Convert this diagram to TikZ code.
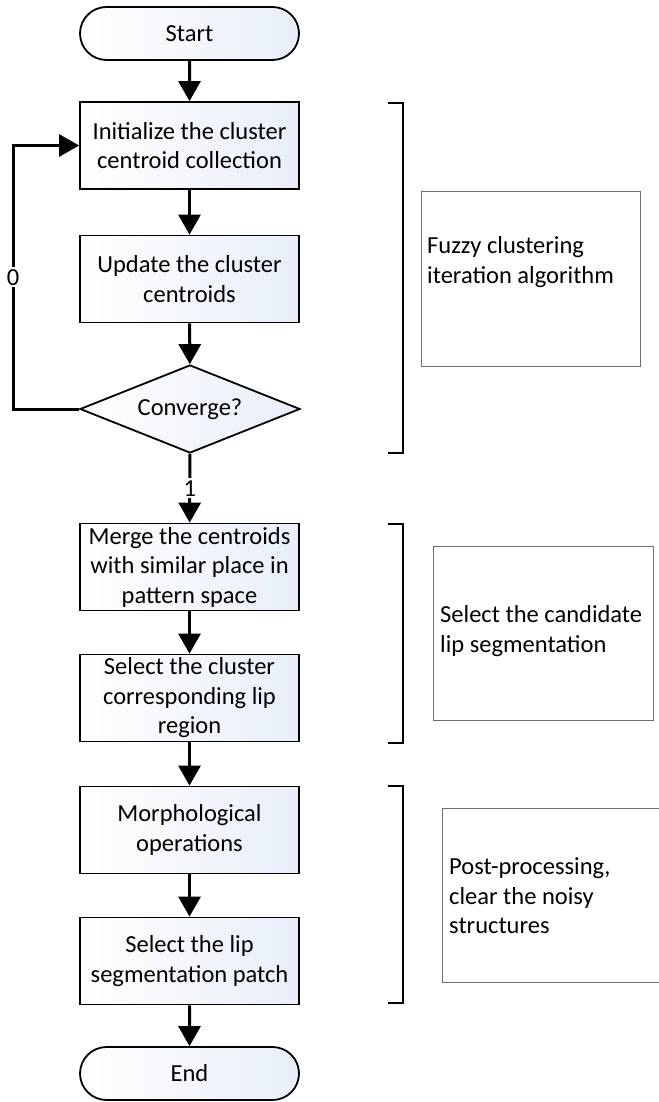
\documentclass[tikz,border=0pt]{standalone}
\usepackage{fontspec}
\setmainfont{Carlito}
\usetikzlibrary{arrows.meta,shapes.geometric,shapes.misc}
\definecolor{boxtint}{RGB}{232,238,248}
\definecolor{notegray}{RGB}{110,110,110}
\begin{document}
\begin{tikzpicture}[x=1pt,y=-1pt,>={Triangle[length=20pt,width=22pt]},
  every node/.style={font=\fontsize{24.5}{29.5}\selectfont},
  stepbox/.style={draw,line width=1.8pt,left color=white,right color=boxtint,
    minimum width=219pt,minimum height=87pt,align=center,inner sep=0pt},
  termbox/.style={stepbox,rounded rectangle,minimum height=53pt},
  testbox/.style={stepbox,diamond,aspect=2.5,minimum width=220pt,minimum height=88pt},
  flow/.style={line width=3pt},
  bracket/.style={line width=2pt},
  notebox/.style={draw=notegray,line width=0.8pt},
  notetext/.style={anchor=west,align=left,inner sep=0pt}]
\useasboundingbox (0,0) rectangle (658,1102);

\node[termbox] (start) at (189.5,33.5) {Start};
\node[stepbox] (init) at (189.5,145.5) {Initialize the cluster\\centroid collection};
\node[stepbox] (update) at (189.5,279) {Update the cluster\\centroids};
\node[testbox] (conv) at (190,409) {Converge?};
\node[stepbox] (merge) at (189.5,567) {Merge the centroids\\with similar place in\\pattern space};
\node[stepbox] (select) at (189.5,698) {Select the cluster\\corresponding lip\\region};
\node[stepbox] (morph) at (189.5,830) {Morphological\\operations};
\node[stepbox] (patch) at (189.5,961) {Select the lip\\segmentation patch};
\node[termbox] (finish) at (189.5,1073.5) {End};

\draw[flow,->] (start) -- (init);
\draw[flow,->] (init) -- (update);
\draw[flow,->] (update) -- (conv);
\draw[flow,->] (conv) -- node[fill=white,inner sep=2pt]{1} (merge);
\draw[flow,->] (merge) -- (select);
\draw[flow,->] (select) -- (morph);
\draw[flow,->] (morph) -- (patch);
\draw[flow,->] (patch) -- (finish);

\coordinate (loopc) at (13,409);
\draw[flow,->] (conv.west) -- (loopc) |- node[pos=0.25,fill=white,inner sep=2pt]{0} (init.west);

\foreach \t/\b in {103/453,524/743,786/1003}
{
    \draw[bracket] (388,\t) -| (403,\b) -- (388,\b);
}

\node[notebox,minimum width=219pt,minimum height=175pt] (fuzzynote) at (530.5,278.5) {};
\node[notetext] (fuzzytext) at (427,262) {Fuzzy clustering\\iteration algorithm};
\node[notebox,minimum width=220pt,minimum height=174pt] (candnote) at (543,633) {};
\node[notetext] (candtext) at (440,631) {Select the candidate\\lip segmentation};
\node[notebox,minimum width=222pt,minimum height=174pt] (postnote) at (553,895) {};
\node[notetext] (posttext) at (449,896) {Post-processing,\\clear the noisy\\structures};
\end{tikzpicture}
\end{document}
